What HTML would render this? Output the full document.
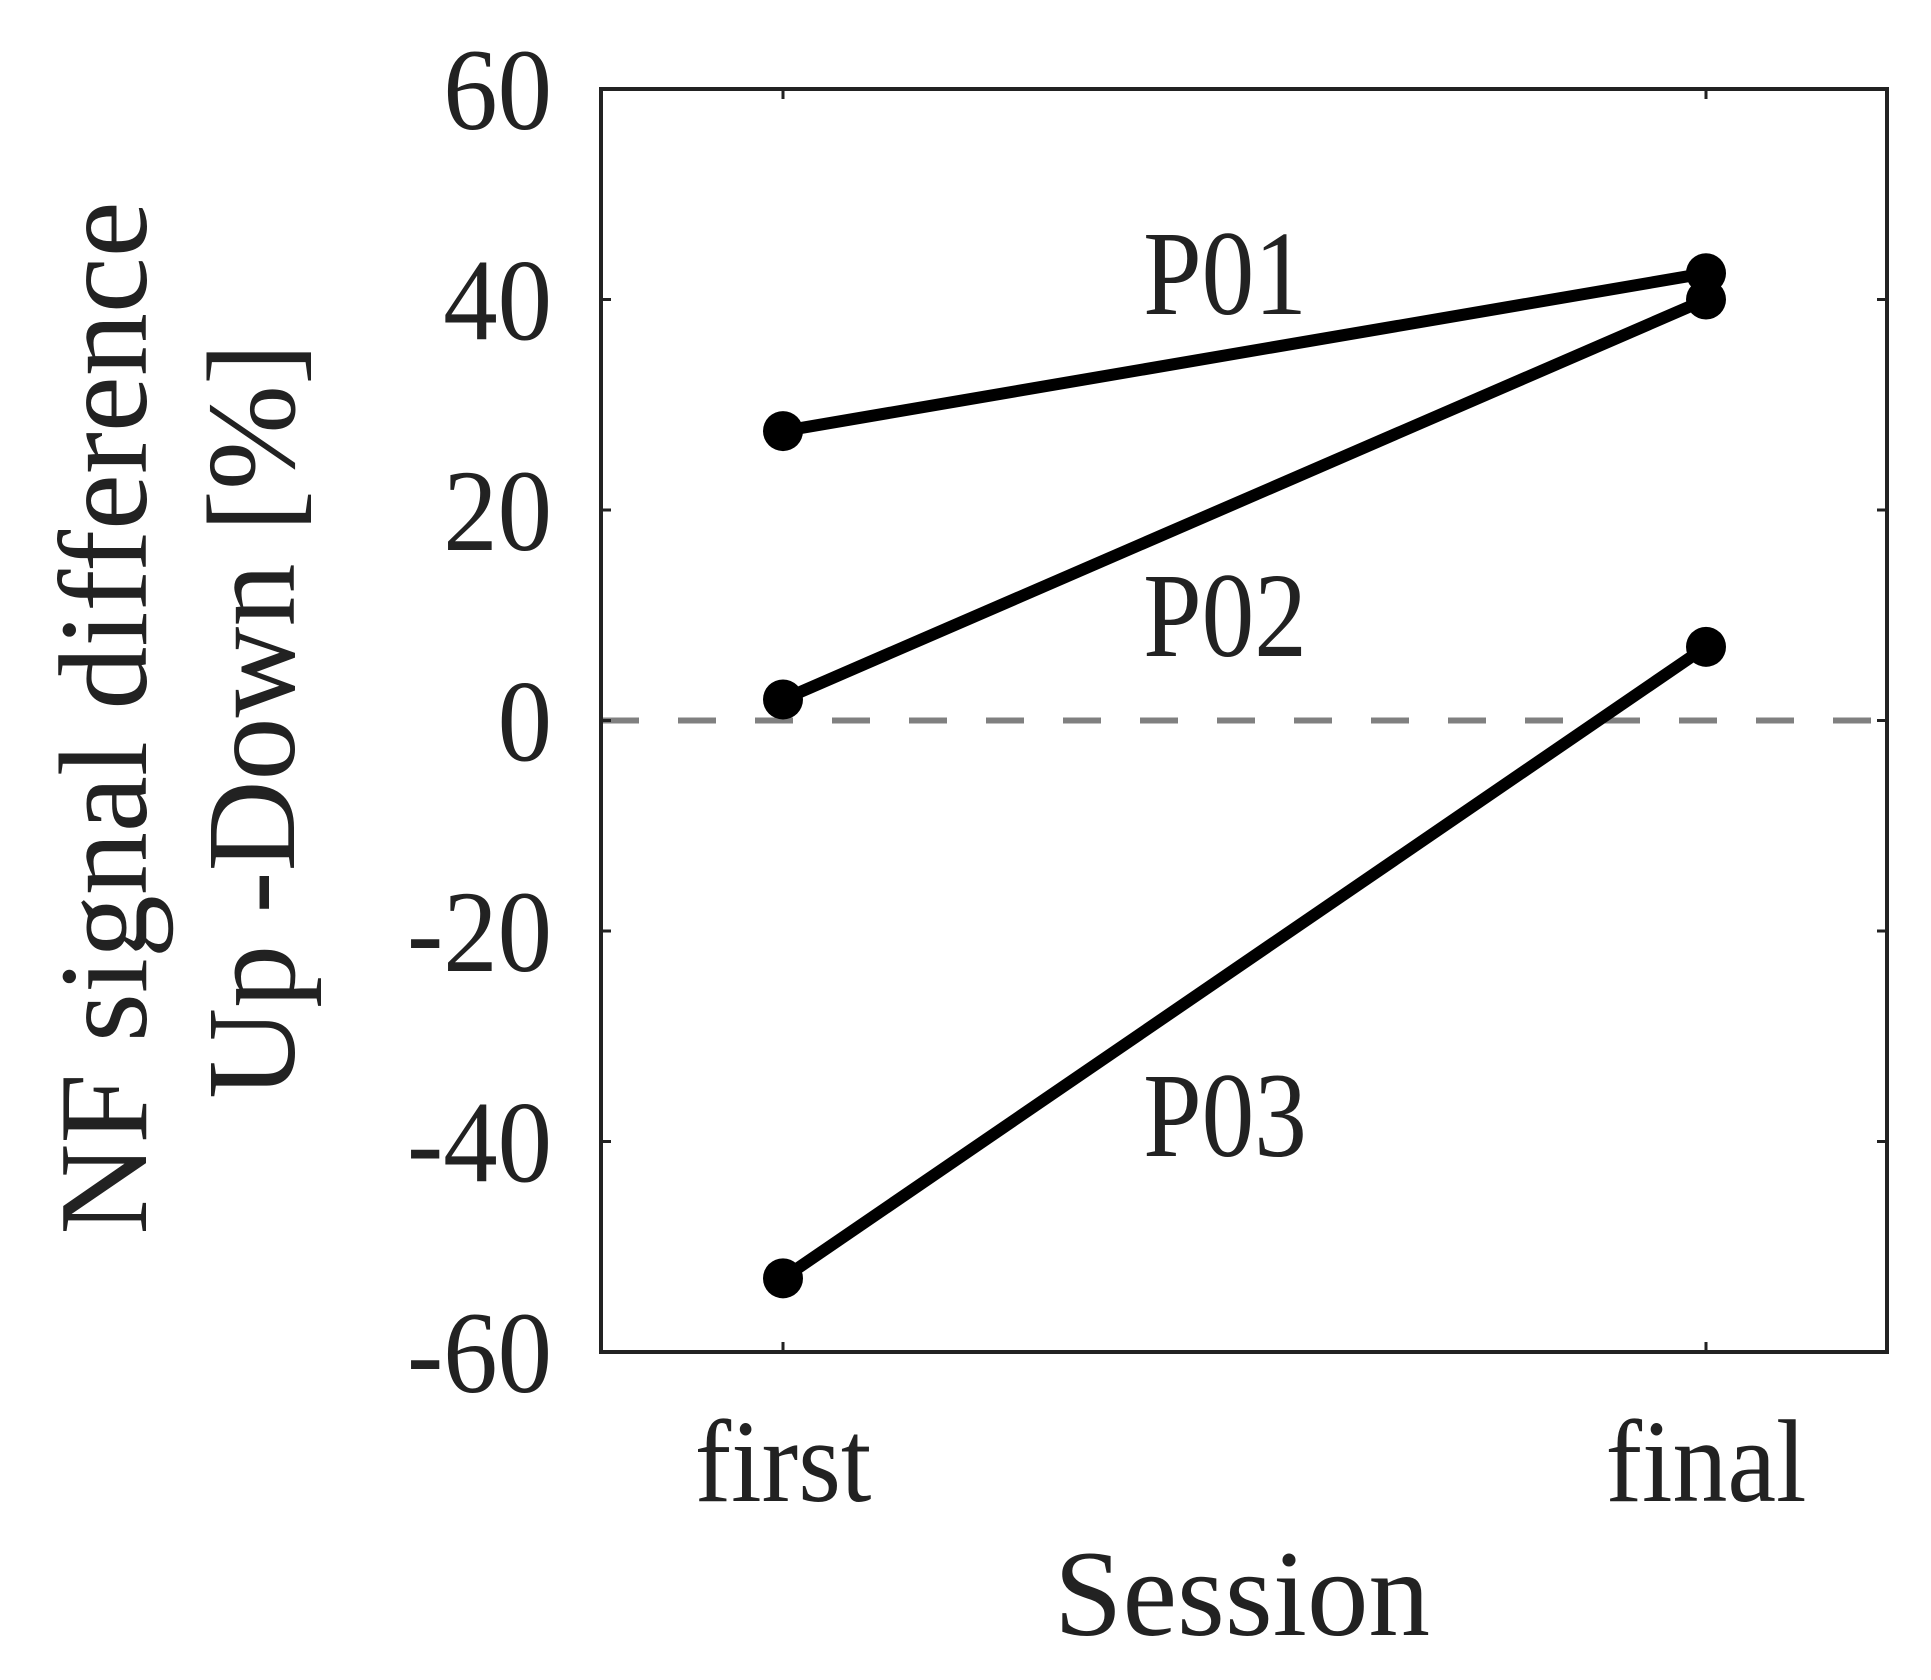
<!DOCTYPE html>
<html><head><meta charset="utf-8"><style>
html,body{margin:0;padding:0;background:#fff;}
svg text{font-family:"Liberation Serif",serif;fill:#222;}
</style></head><body>
<svg id="chart" width="1931" height="1675" viewBox="0 0 1931 1675" xmlns="http://www.w3.org/2000/svg"></svg>
<script>
const categories = ["first", "final"];
const participants = ["P01", "P02", "P03"];
const firstValues = [27.5, 2, -53];
const finalValues = [42.5, 40, 7];
const yTicks = [60, 40, 20, 0, -20, -40, -60];
const labelValues = [39, 6.5, -41];

const L = 601, R = 1887, T = 89, B = 1352;
const xPos = [783, 1706];
const yMin = -60, yMax = 60;
function yScale(v){ return T + (yMax - v) / (yMax - yMin) * (B - T); }
function xScale(i){ return xPos[i]; }

const NS = "http://www.w3.org/2000/svg";
const svg = document.getElementById("chart");
function mk(tag, attrs){ const e = document.createElementNS(NS, tag); for (const k in attrs) e.setAttribute(k, attrs[k]); svg.appendChild(e); return e; }
function txt(s, x, y, size, sx, anchor, rot){
  const e = mk("text", {x:0, y:0, "font-size":size, "text-anchor":anchor,
    transform:"translate(" + x + "," + y + ")" + (rot ? " rotate(" + rot + ")" : "") + " scale(" + sx + ",1)"});
  e.textContent = s;
  return e;
}

// zero line
const z = mk("line", {x1:L, x2:R, y1:yScale(0), y2:yScale(0), stroke:"#808080", "stroke-width":6, "stroke-dasharray":"38,39"});



// y ticks
yTicks.forEach(v => {
  const y = yScale(v);
  const t1 = mk("line", {x1:L, x2:L+10, y1:y, y2:y, stroke:"#222", "stroke-width":3});
  
  
  const t2 = mk("line", {x1:R-10, x2:R, y1:y, y2:y, stroke:"#222", "stroke-width":3});
  
  
  const tx = txt(String(v), 552, y+40, 117, 0.93, "end");
  
  
});
// x ticks
categories.forEach((c, i) => {
  const x = xScale(i);
  const a = mk("line", {x1:x, x2:x, y1:T, y2:T+10, stroke:"#222", "stroke-width":3});
  
  
  const b = mk("line", {x1:x, x2:x, y1:B-10, y2:B, stroke:"#222", "stroke-width":3});
  
  
  const tx = txt(c, x, 1501, 118, 0.93, "middle");
  
  
});

// series
participants.forEach((p, i) => {
  const ln = mk("line", {x1:xScale(0), y1:yScale(firstValues[i]), x2:xScale(1), y2:yScale(finalValues[i]), stroke:"#000", "stroke-width":12});
  
  
  [firstValues[i], finalValues[i]].forEach((v, j) => {
    const c = mk("circle", {cx:xScale(j), cy:yScale(v), r:20, fill:"#000"});
    
    
  });
  const lb = txt(p, 1225, yScale(labelValues[i]) + 4, 121, 0.87, "middle");
  
  
});

// frame
const fr = mk("rect", {x:L, y:T, width:R-L, height:B-T, fill:"none", stroke:"#222", "stroke-width":4});



// axis titles
const yl1 = txt("NF signal difference", 146, 718, 126, 1, "middle", -90);


const yl2 = txt("Up -Down [%]", 294, 721, 126, 1, "middle", -90);


const xl = txt("Session", 1242, 1635, 123, 1, "middle");


</script>
</body></html>
